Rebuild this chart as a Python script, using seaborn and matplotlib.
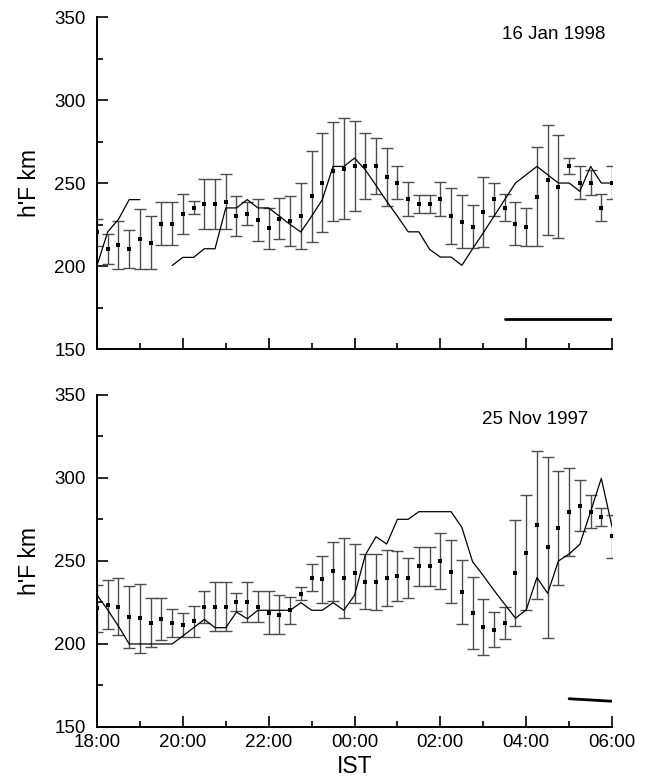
"""Ionosonde h'F: observed mean with spread vs model, two nights."""

import matplotlib

matplotlib.use("Agg")
import matplotlib.pyplot as plt
import numpy as np
import seaborn as sns
from matplotlib.ticker import MultipleLocator

# time in hours after 18:00 IST, 15 min steps
hours = np.arange(49) * 0.25
tick_hours = [0, 2, 4, 6, 8, 10, 12]
tick_labels = ["18:00", "20:00", "22:00", "00:00", "02:00", "04:00", "06:00"]

# 16 Jan 1998
jan_mean = [220.3, 210.4, 212.8, 210.4, 216.5, 214.1, 225.5, 225.5, 231.5, 235.1,
            237.5, 237.5, 238.7, 230.3, 231.5, 227.7, 222.7, 228.5, 226.9, 230.3,
            242.0, 250.2, 257.0, 258.6, 260.2, 260.2, 260.2, 253.4, 250.2, 240.4,
            237.2, 237.2, 240.4, 230.3, 226.7, 223.7, 232.5, 240.1, 235.1, 225.5,
            223.7, 241.8, 251.8, 247.8, 260.2, 250.2, 250.2, 235.1, 250.2]
jan_err = [8, 9, 14.5, 11.5, 18, 16, 13, 13, 12, 4,
           15, 15, 16.5, 12, 7, 12.5, 12.5, 12.5, 15, 20,
           27.5, 30, 30, 30.5, 27, 20, 17, 17.5, 10, 10,
           5.5, 5.5, 10, 17, 16, 13, 21, 10, 8, 13,
           11.5, 30, 33, 31, 5, 10, 7.5, 8, 10]
jan_model = [200.3, 220.6, 228.1, 240, 240, np.nan, np.nan, 200.3, 205.2, 205.2,
             210.4, 210.4, 235, 235, 240, 235, 235, 230, 225, 220.5,
             230, 240, 260, 260, 265, 258, 248.6, 239, 230, 220.6,
             220.6, 210, 205.4, 205.4, 200.4, 210.3, 220, 230, 240, 250,
             255, 260, 255, 250, 250, 245, 260, 250, 250]
jan_bar_t = [9.5, 12.0]
jan_bar_v = [168, 168]

# 25 Nov 1997
nov_mean = [221.5, 223.7, 222.5, 216.4, 215.4, 212.8, 215.2, 212.8, 211.4, 213.8,
            222.5, 222.5, 222.5, 225.1, 225.1, 222.5, 218.9, 217.7, 220.3, 230.3,
            239.9, 238.9, 243.7, 239.9, 242.5, 237.5, 237.5, 239.9, 241.1, 239.9,
            246.7, 246.7, 250.0, 243.5, 231.3, 218.9, 210.2, 208.6, 212.7, 242.6,
            255.0, 271.7, 258.2, 270.1, 279.7, 283.4, 279.7, 276.7, 264.9]
nov_err = [14, 14.7, 17, 18.7, 20.6, 14.7, 12.7, 8.4, 7.2, 9.3,
           9.6, 14.8, 14.8, 5.5, 12, 9.5, 13, 11.6, 8, 3.9,
           8, 14, 18, 24, 18, 16.5, 17, 17, 15, 12,
           11.5, 11.5, 17, 19, 19, 21.7, 17, 10.5, 9.6, 32,
           34.6, 44.4, 54.6, 34.4, 26.5, 15.3, 10, 5.5, 13]
nov_model = [229.5, 220.5, 210.7, 200, 200, 200, 200, 200, 204.8, 209.8,
             214.8, 209.8, 209.8, 219.2, 215.2, 220.3, 220.3, 220.3, 220.3, 224.9,
             220.3, 220.3, 224.9, 220.3, 229.3, 253.6, 264.6, 260.2, 275.1, 275.1,
             279.7, 279.7, 279.7, 279.7, 270.3, 249.6, 241.2, 232.3, 223.9, 215.5,
             220.5, 240, 230.5, 250, 254.2, 260, 279.7, 299.8, 270.6]
nov_bar_t = [11.0, 12.0]
nov_bar_v = [167, 165.5]

sns.set_theme(style="ticks")
plt.rcParams["font.family"] = ["Liberation Sans", "DejaVu Sans"]
plt.rcParams["text.color"] = "black"
plt.rcParams["axes.labelcolor"] = "black"


def draw_panel(ax, mean, err, model, bar_t, bar_v, label, label_pos, show_x):
    ax.errorbar(hours, mean, yerr=err, fmt="none", ecolor="0.3",
                elinewidth=1.0, capsize=4, capthick=1.0, zorder=2)
    sns.scatterplot(x=hours, y=mean, ax=ax, marker="s", s=12, color="black",
                    edgecolor=None, linewidth=0, zorder=3, legend=False)
    ax.plot(hours, model, color="black", lw=0.9, zorder=4)
    ax.plot(bar_t, bar_v, color="black", lw=2.0)

    ax.set_xlim(0, 12)
    ax.set_ylim(150, 350)
    sns.despine(ax=ax)
    for side in ("left", "bottom"):
        ax.spines[side].set_linewidth(1.4)
        ax.spines[side].set_color("black")

    ax.set_xticks(tick_hours)
    ax.xaxis.set_minor_locator(MultipleLocator(1))
    ax.yaxis.set_major_locator(MultipleLocator(50))
    ax.yaxis.set_minor_locator(MultipleLocator(25))
    ax.tick_params(which="both", direction="in", color="black", width=1.2,
                   labelsize=13.5, labelcolor="black")
    ax.tick_params(which="major", length=8)
    ax.tick_params(which="minor", length=4.5)
    ax.tick_params(axis="y", pad=8)
    if show_x:
        ax.set_xticklabels(tick_labels)
        ax.tick_params(axis="x", pad=5)
        ax.set_xlabel("IST", fontsize=16.5, labelpad=3, color="black")
    else:
        ax.set_xticklabels([])
    ax.set_ylabel("h'F km", fontsize=16.5, labelpad=10, color="black")
    ax.text(label_pos[0], label_pos[1], label, transform=ax.transAxes,
            ha="center", va="center", fontsize=13.5, color="black")


fig = plt.figure(figsize=(6.48, 7.78), dpi=100)
ax_top = fig.add_axes([0.1497, 0.5514, 0.7948, 0.4267])
ax_bot = fig.add_axes([0.1497, 0.0656, 0.7948, 0.4267])

draw_panel(ax_top, jan_mean, jan_err, jan_model, jan_bar_t, jan_bar_v,
           "16 Jan 1998", (0.887, 0.946), show_x=False)
draw_panel(ax_bot, nov_mean, nov_err, nov_model, nov_bar_t, nov_bar_v,
           "25 Nov 1997", (0.85, 0.925), show_x=True)

fig.savefig("out.png", dpi=100)
plt.close(fig)
